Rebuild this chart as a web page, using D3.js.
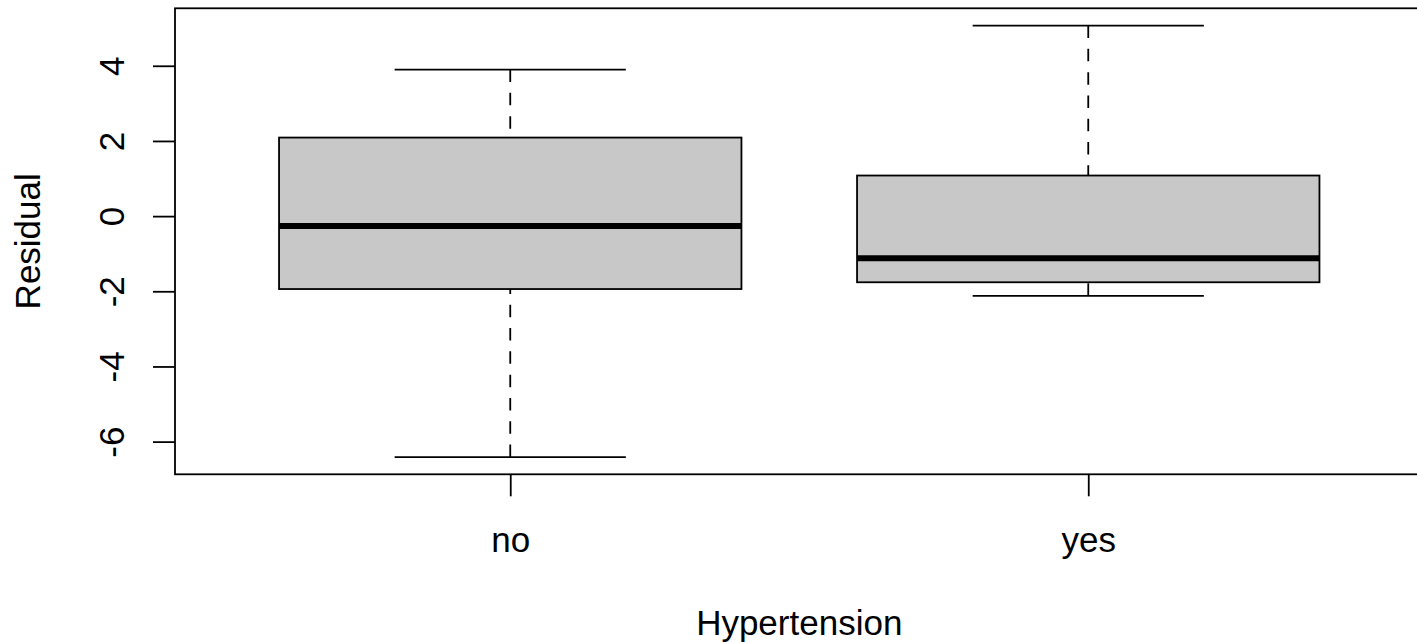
<!DOCTYPE html>
<html>
<head>
<meta charset="utf-8">
<script src="https://cdn.jsdelivr.net/npm/d3@7"></script>
<style>
  html, body { margin: 0; padding: 0; background: #fff; }
  svg { display: block; font-family: "Liberation Sans", Arial, Helvetica, sans-serif; }
</style>
</head>
<body>
<svg id="chart" width="1417" height="642"></svg>
<script>
// Residual summaries per hypertension group
const groups = ["no", "yes"];
const lowerWhisker = [-6.41, -2.12];
const q1 = [-1.94, -1.76];
const median = [-0.26, -1.12];
const q3 = [2.09, 1.08];
const upperWhisker = [3.90, 5.07];
const yTicks = [-6, -4, -2, 0, 2, 4];

const xTitle = "Hypertension";
const yTitle = "Residual";

const svg = d3.select("#chart");
const FS = 35;
const plot = { left: 175, top: 8.3, right: 1423.5, bottom: 474.3 };

// y range padded by 4% on each side
const lo = d3.min(lowerWhisker), hi = d3.max(upperWhisker);
const pad = (hi - lo) * 0.04;
const y = d3.scaleLinear().domain([lo - pad, hi + pad]).range([plot.bottom, plot.top]);

// box positions 1..n, x range padded the same way
const n = groups.length;
const xpad = n * 0.04;
const x = d3.scaleLinear().domain([0.5 - xpad, n + 0.5 + xpad]).range([plot.left, plot.right]);
const boxHalf = (x(1.4) - x(1));
const capHalf = boxHalf * 0.5;

const g = svg.append("g");

groups.forEach((name, i) => {
  const cx = x(i + 1);
  // whiskers, drawn from cap toward box
  [[upperWhisker[i], q3[i]], [lowerWhisker[i], q1[i]]].forEach(([a, b]) => {
    g.append("line")
      .attr("x1", cx).attr("x2", cx)
      .attr("y1", y(a)).attr("y2", y(b))
      .attr("stroke", "#000").attr("stroke-width", 1.8)
      .attr("stroke-dasharray", "12.5,10.8");
    g.append("line")
      .attr("x1", cx - capHalf).attr("x2", cx + capHalf)
      .attr("y1", y(a)).attr("y2", y(a))
      .attr("stroke", "#000").attr("stroke-width", 1.8);
  });
  // box
  g.append("rect")
    .attr("x", cx - boxHalf).attr("width", 2 * boxHalf)
    .attr("y", y(q3[i])).attr("height", y(q1[i]) - y(q3[i]))
    .attr("fill", "#c8c8c8").attr("stroke", "#000").attr("stroke-width", 1.8);
  // median
  g.append("line")
    .attr("x1", cx - boxHalf).attr("x2", cx + boxHalf)
    .attr("y1", y(median[i])).attr("y2", y(median[i]))
    .attr("stroke", "#000").attr("stroke-width", 6);
});

// frame
svg.append("rect")
  .attr("x", plot.left).attr("y", plot.top)
  .attr("width", plot.right - plot.left).attr("height", plot.bottom - plot.top)
  .attr("fill", "none").attr("stroke", "#000").attr("stroke-width", 1.8);

// y axis
const yAxis = svg.append("g")
  .attr("transform", `translate(${plot.left},0)`)
  .call(d3.axisLeft(y).tickValues(yTicks).tickSize(22).tickFormat(d3.format("d")));
yAxis.select(".domain").remove();
yAxis.selectAll(".tick line").attr("stroke", "#000").attr("stroke-width", 1.8);
yAxis.selectAll(".tick text")
  .attr("x", null).attr("dy", null)
  .attr("transform", "translate(-51,0) rotate(-90)")
  .attr("text-anchor", "middle")
  .attr("font-size", FS)
  .attr("font-family", "Liberation Sans, Arial, sans-serif")
  .attr("fill", "#000")
  .text(d => d < 0 ? "-" + Math.abs(d) : String(d));

// x axis
const xAxis = svg.append("g")
  .attr("transform", `translate(0,${plot.bottom})`)
  .call(d3.axisBottom(x).tickValues(groups.map((d, i) => i + 1)).tickSize(22)
    .tickFormat((d, i) => groups[i]));
xAxis.select(".domain").remove();
xAxis.selectAll(".tick line").attr("stroke", "#000").attr("stroke-width", 1.8);
xAxis.selectAll(".tick text")
  .attr("y", 77.5).attr("dy", null)
  .attr("font-size", FS)
  .attr("font-family", "Liberation Sans, Arial, sans-serif")
  .attr("fill", "#000");

// axis titles
svg.append("text")
  .attr("x", (plot.left + plot.right) / 2).attr("y", 635)
  .attr("text-anchor", "middle").attr("font-size", FS).attr("fill", "#000")
  .text(xTitle);
svg.append("text")
  .attr("transform", `translate(40,${(plot.top + plot.bottom) / 2}) rotate(-90)`)
  .attr("text-anchor", "middle").attr("font-size", FS).attr("fill", "#000")
  .text(yTitle);
</script>
</body>
</html>
